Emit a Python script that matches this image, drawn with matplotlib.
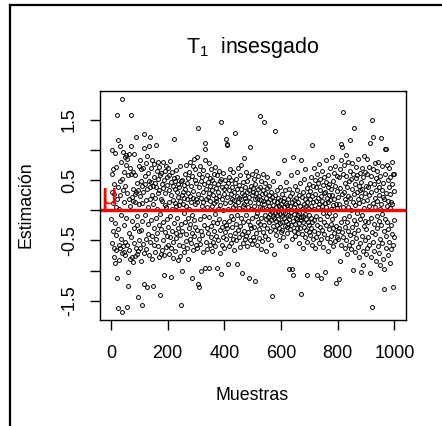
import matplotlib
matplotlib.use('Agg')
import matplotlib.pyplot as plt
import numpy as np
from matplotlib.lines import Line2D

plt.rcParams['font.family'] = ['Liberation Sans', 'DejaVu Sans']

# estimates, in sample order (1..1000)
est_001_100 = [
    -0.14, 0.61, 1.0, -0.54, 0.31, 0.68, -0.35, 0.12, -0.62, 0.27,
    -0.78, 0.44, -0.21, 0.95, -0.88, 0.05, -0.41, 0.72, -0.66, 1.58,
    0.18, -1.12, -0.31, -1.62, 1.17, 0.38, -0.58, 0.02, -0.83, 0.49,
    -0.63, 0.25, 1.06, -0.47, 0.81, -0.07, 0.52, -0.71, 1.84, -1.68,
    0.34, -0.6, 0.97, -0.25, 0.63, -0.69, 0.14, 0.88, -0.52, 0.41,
    -0.74, 0.76, -0.12, 0.92, -0.57, 0.29, -1.6, 0.85, -1.03, 0.59,
    -1.26, 0.19, -0.66, 0.93, -0.38, 0.7, -0.81, 0.08, 1.07, -0.45,
    0.6, 1.58, -0.77, 0.22, -0.18, 0.36, -0.86, 0.64, 0.15, -0.54,
    0.93, -0.29, 0.27, -0.76, 0.58, 0.13, -0.63, 0.31, 1.21, -0.24,
    -0.73, 0.46, -0.09, -1.44, 0.34, -0.67, 0.74, -0.35, 0.11, -0.49,
]
est_101_200 = [
    0.83, -0.62, 0.24, 0.49, -0.33, 0.68, -0.84, 0.12, 0.4, -1.58,
    -0.18, 0.71, -0.56, 0.3, 1.03, -0.71, 1.26, -1.23, 0.57, -0.08,
    0.44, -0.47, 0.79, 0.17, -0.64, 0.91, 0.36, -1.27, 0.05, -0.39,
    0.62, -0.22, 0.48, -0.75, 1.06, 0.19, 1.21, -0.53, 0.38, 0.7,
    -0.16, 0.47, -0.8, 0.26, 0.84, -0.43, 0.41, 0.1, -1.26, 0.55,
    -0.3, 0.77, -0.58, 0.45, 0.21, -0.69, 1.08, -0.12, 0.39, -0.47,
    0.66, 0.03, -0.37, 0.81, -0.6, 0.28, 0.52, -0.24, 0.72, -0.78,
    0.34, -0.06, -1.4, 0.58, -0.73, 0.19, 0.62, -0.31, 0.43, -0.66,
    0.15, 0.8, -0.49, 0.37, -0.2, -1.07, 0.51, -0.74, 0.09, 0.66,
    -0.36, 0.29, -0.61, 0.74, 0.05, -0.43, 0.56, -0.15, 0.42, -0.58,
]
est_201_300 = [
    0.71, -0.27, 0.33, -0.72, 0.14, 0.58, -0.44, 0.82, -0.09, 0.26,
    -0.63, -1.1, 0.47, 0.02, -0.35, 0.64, -0.79, 0.4, 0.17, -0.52,
    0.53, 1.18, -0.21, 0.36, -0.68, 0.12, 0.49, -0.38, 0.67, 0.08,
    -0.46, 0.31, -0.13, 0.55, -0.82, 0.22, 0.44, -0.29, 0.09, -0.57,
    0.38, 0.73, -0.41, 0.16, -0.76, -1.58, 0.48, -0.23, 0.26, -1.01,
    0.5, -0.34, 0.11, -0.6, 0.3, -0.05, 0.42, -0.7, 0.21, 0.61,
    -0.19, 0.35, -0.51, 0.07, 0.75, -0.39, 0.18, -0.63, 0.46, -0.12,
    0.29, -0.8, 0.54, 0.03, -0.3, 0.63, -0.47, 0.24, 0.81, -0.22,
    0.13, -0.55, 0.4, -0.07, -1.12, 0.57, -0.37, 0.2, 0.74, -0.66,
    0.32, -0.16, 0.86, -0.43, 0.1, 0.51, -0.28, 0.69, -0.58, 0.19,
]
est_301_400 = [
    0.45, -0.33, 0.88, 0.14, -0.62, -1.22, 1.37, 0.27, -0.48, 0.6,
    -1.27, 0.38, -0.15, 0.74, -0.56, 0.21, 0.49, -0.35, -1.0, 0.08,
    0.56, -0.41, 0.31, -0.7, 0.13, 0.67, -0.24, 0.44, -0.09, 0.83,
    1.11, 1.02, -0.96, 0.36, -0.52, 0.18, 0.59, -0.3, 0.05, -0.64,
    0.47, 0.22, -0.38, 0.78, -0.96, 0.29, -0.11, 0.53, -0.57, 0.16,
    0.4, -0.26, 0.69, -0.45, 0.07, 0.33, -0.68, 0.51, -0.19, 0.26,
    -0.53, 0.61, 0.12, -0.34, 0.45, -0.06, 0.72, -0.6, 0.2, 0.37,
    -0.42, 0.15, 0.58, -0.21, -0.96, 0.43, 0.03, -0.49, 0.3, 0.66,
    -0.14, 0.24, -0.71, 0.48, 0.09, -0.33, 1.47, -1.06, 0.52, -0.27,
    0.18, -0.58, 0.39, 0.01, -0.44, 0.62, -0.2, 0.27, -0.63, 0.35,
]
est_401_500 = [
    -0.36, 0.5, 0.12, -0.25, 0.41, 1.18, -0.47, 0.22, 1.1, 1.08,
    -0.3, 0.46, 0.03, -0.89, 0.55, -0.18, 0.33, -0.6, 0.14, 0.69,
    -0.41, 0.27, -0.1, 0.5, -0.54, 0.19, 0.38, -0.28, 0.06, -0.47,
    0.63, -0.15, 0.31, -0.66, 0.17, 0.45, -0.37, 1.28, 0.09, -0.22,
    0.52, -0.5, 0.24, -0.08, 0.36, -0.89, 0.13, 0.71, -0.32, 0.2,
    -0.45, 0.42, 0.04, -0.26, 0.58, -0.61, 0.18, 0.35, -0.13, 0.76,
    -0.39, -1.04, 0.29, 0.07, -0.55, 0.47, -0.2, 0.25, 0.87, -0.34,
    0.11, 0.39, -0.48, 0.2, -0.07, 0.64, -0.42, 0.15, 0.3, -0.6,
    0.49, -0.17, 0.06, -0.36, 0.57, 0.22, -1.12, 0.34, -0.25, 1.05,
    -0.5, 0.13, 0.4, -0.3, 0.02, -0.56, 0.26, 0.6, -0.12, 0.37,
]
est_501_600 = [
    -0.44, 0.31, 0.08, -0.27, 0.52, -0.49, -1.17, 0.19, 0.43, -0.1,
    0.28, -0.38, 0.66, -0.05, 0.21, -0.58, 0.35, -0.19, 0.12, 0.57,
    -0.31, 0.24, -0.46, 1.57, 0.06, -0.22, 0.39, -0.64, 0.17, 0.49,
    -0.13, 0.27, -0.51, 0.04, 0.6, -0.36, 0.15, 0.33, 1.46, -0.24,
    0.1, -0.43, 0.29, -0.08, 0.46, -0.68, 0.2, -0.15, 0.37, 0.02,
    -0.3, 0.56, -0.11, 0.14, -0.47, 0.25, 0.07, -0.2, 0.41, -0.06,
    0.18, -0.35, 0.03, 0.3, -0.16, -0.57, -0.02, -1.43, 0.22, -0.1,
    0.48, -0.26, 0.09, -0.12, -0.72, 0.16, 1.31, -0.04, -0.33, 0.26,
    -0.18, 0.05, -0.41, 0.34, -0.08, 0.13, -0.24, 0.62, -0.01, -0.14,
    0.21, -0.29, 0.08, -0.5, 0.17, -0.06, 0.39, -0.21, 0.11, -0.36,
]
est_601_700 = [
    0.04, -0.19, 0.27, -0.09, -0.32, 0.15, -0.02, -0.44, 0.21, 0.84,
    -0.13, 0.06, -0.26, 0.33, -0.05, -0.6, 0.12, -0.17, 0.47, -0.28,
    0.09, -0.38, 0.19, -0.07, -0.22, 0.02, 0.36, -0.97, -0.14, 0.24,
    -0.31, 0.07, -0.1, 0.58, -0.25, -0.03, 0.14, -0.47, 0.28, -0.98,
    0.89, -1.07, -0.18, 0.05, -0.35, 0.17, -0.06, 0.41, -0.23, 0.1,
    -0.42, 0.2, -0.12, 0.01, -0.29, 0.34, -0.15, 0.63, -0.08, -0.37,
    0.13, -0.21, 0.26, -0.04, -0.55, 0.08, 0.45, -0.3, -0.11, -1.39,
    0.84, -0.16, 0.03, -0.4, 0.22, -0.09, -0.62, 0.3, -0.2, 0.11,
    -0.27, 0.52, -0.06, -0.45, 0.18, 0.69, -0.33, 0.07, -0.14, 0.37,
    -0.52, 0.14, -1.07, 0.25, -0.19, 0.04, -0.36, 0.43, -0.08, -0.25,
]
est_701_800 = [
    0.19, -0.41, 0.32, -0.12, 0.56, -0.3, 0.08, -0.58, 0.24, 1.09,
    -0.2, 0.41, -0.47, 0.13, 0.7, -0.35, 0.02, -0.16, 0.5, -0.62,
    0.27, -0.09, 0.38, -0.44, 0.15, -1.07, 0.61, -0.24, 0.05, 0.46,
    -0.37, 0.21, -0.55, 0.77, 0.1, -0.28, 0.34, -0.14, 0.52, -1.12,
    0.23, -0.48, 0.08, 0.65, -0.33, 0.16, -0.04, 0.42, -0.61, 0.29,
    -0.19, 0.55, -0.39, 0.12, 0.3, -1.03, 0.47, -0.25, 0.06, 0.83,
    -0.46, 0.2, -0.1, 0.38, -0.67, 0.14, 0.58, -0.31, 0.25, -0.05,
    0.44, -0.53, 0.17, 0.71, -0.22, 0.03, -0.42, 0.35, 0.88, -0.15,
    0.26, -0.6, 0.49, 0.09, -0.29, 0.62, -0.38, 0.18, -0.07, 0.4,
    -0.51, 0.73, 0.11, -0.26, -1.2, 0.32, -0.45, 0.57, 0.04, -0.34,
]
est_801_900 = [
    0.22, -0.48, -1.14, 0.55, 0.1, -0.3, -0.84, 0.68, 0.37, -0.19,
    0.84, 1.1, -0.58, 1.05, 0.27, -0.36, 0.6, 0.05, 1.64, -0.44,
    0.31, -0.12, 0.76, -0.63, 0.18, 0.45, -0.27, 0.92, -0.5, 0.13,
    0.57, -0.2, 0.39, -0.72, 0.06, 0.81, -0.34, 0.24, -0.57, 0.48,
    -0.09, 0.66, 1.16, -0.41, 0.2, -0.65, 0.52, 0.01, 0.79, -0.28,
    0.35, -0.53, 0.14, 0.61, -0.99, 0.27, -0.16, 1.37, -0.38, 0.44,
    -0.7, 0.09, 0.53, -0.23, 0.72, -0.46, 0.3, -0.05, 0.58, -0.61,
    0.19, 0.85, -0.32, 0.4, -0.78, 0.12, 0.62, -0.14, 0.33, -0.55,
    0.47, -1.03, 0.23, -0.43, 0.7, -0.08, 0.36, -0.68, 0.15, -0.9,
    0.55, -0.26, 0.91, 0.04, -0.49, 0.64, -0.17, 0.28, -0.73, 0.41,
]
est_901_1000 = [
    -0.31, 0.6, 0.17, -0.62, 0.86, -0.19, 0.38, -0.45, 0.08, 0.72,
    -0.58, 0.25, 1.12, -1.04, 0.46, -0.13, 0.57, -0.77, 0.3, 1.5,
    -0.36, -1.6, 1.22, 0.12, -0.52, 0.68, -0.22, 0.43, -0.67, 0.2,
    0.79, -0.4, 0.05, 0.54, -0.84, 0.33, -0.1, 0.65, -0.29, 0.15,
    -0.6, 0.48, 0.81, -0.18, 0.26, -0.71, 0.39, 0.02, -0.47, -0.9,
    0.57, -0.25, 1.2, 0.11, -0.55, 0.73, -0.06, 0.34, -0.8, 0.22,
    0.46, -0.97, 0.18, -0.35, -1.31, 1.02, 0.61, -0.14, 1.02, -0.63,
    0.29, -0.42, 0.76, -0.2, 0.08, -0.74, 0.5, 0.16, -0.31, 0.38,
    -0.53, 0.7, 0.04, -0.88, 0.27, 0.55, -0.24, 0.13, -0.65, 0.44,
    0.81, -0.39, 0.1, 0.61, -0.57, -1.28, 0.32, -0.16, 0.61, -0.45,
]

mu = 0.0
y_ticks = [-1.5, -1.0, -0.5, 0.0, 0.5, 1.0, 1.5]
y_labels = ['-1.5', '', '-0.5', '', '0.5', '', '1.5']
x_ticks = [0, 200, 400, 600, 800, 1000]

est = np.array(est_001_100 + est_101_200 + est_201_300 + est_301_400 + est_401_500
               + est_501_600 + est_601_700 + est_701_800 + est_801_900 + est_901_1000)
muestras = np.arange(1, len(est) + 1)

W, H = 442, 426
fig = plt.figure(figsize=(W / 100, H / 100), dpi=100)
ax = fig.add_axes([100 / W, 1 - 320 / H, 305.7 / W, 229 / H])

ax.plot(muestras, est, 'o', markersize=2.8, markerfacecolor='none',
        markeredgecolor='black', markeredgewidth=0.7)
ax.axhline(mu, color='#ff0000', linewidth=2.4)

# R style 4% padding
xr = muestras.max() - muestras.min()
yr = est.max() - est.min()
ax.set_xlim(muestras.min() - 0.04 * xr, muestras.max() + 0.04 * xr)
ax.set_ylim(est.min() - 0.04 * yr, est.max() + 0.04 * yr)

ax.set_xticks(x_ticks)
ax.set_xticklabels([str(t) for t in x_ticks], fontsize=13)
ax.set_yticks(y_ticks)
ax.set_yticklabels(y_labels, fontsize=13, rotation=90, va='center')
ax.tick_params(direction='out', length=7, width=1, color='black', pad=9)
ax.tick_params(axis='x', pad=11)
for s in ax.spines.values():
    s.set_linewidth(1)

ax.text(-5, mu + 0.1, 'μ', color='#ff0000', fontsize=24,
        ha='center', va='baseline', family='Liberation Serif', zorder=5)

fig.text(252.5 / W, 1 - 48 / H, r'$\mathregular{T_1}$  insesgado', fontsize=15.5,
         ha='center', va='center')
fig.text(252.5 / W, 1 - 396 / H, 'Muestras', fontsize=12.8, ha='center', va='center')
fig.text(26 / W, 1 - 205 / H, 'Estimación', fontsize=12.8, rotation=90,
         ha='center', va='center')

# frame edges of the original cropped device
fig.add_artist(Line2D([10 / W, 1], [1 - 5 / H, 1 - 5 / H], color='black', linewidth=1.6))
fig.add_artist(Line2D([10 / W, 10 / W], [0, 1 - 5 / H], color='black', linewidth=1.6))

fig.savefig('out.png', dpi=100)
